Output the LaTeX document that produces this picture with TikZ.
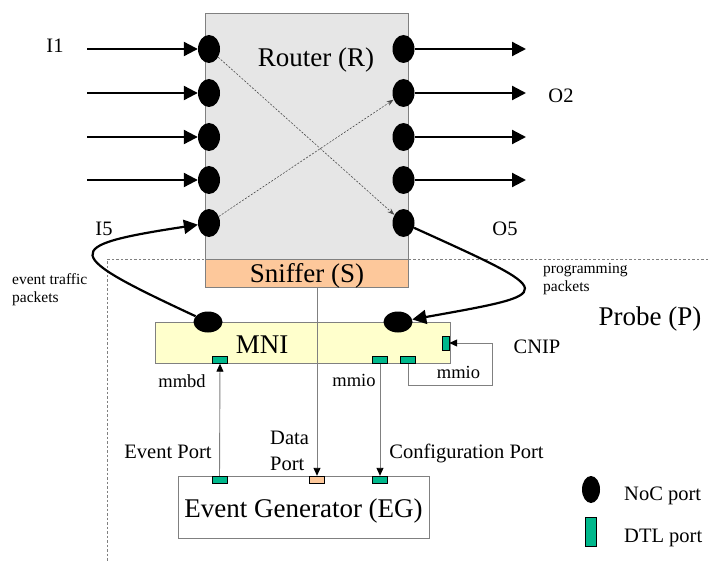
\documentclass[tikz,border=0pt]{standalone}
\usepackage{fontspec}
\setmainfont{Liberation Serif}
\usepackage{tikz}
\usetikzlibrary{arrows.meta,shapes,positioning}
\definecolor{routergray}{RGB}{230,230,230}
\definecolor{sniffpeach}{RGB}{253,200,155}
\definecolor{mniyellow}{RGB}{255,255,204}
\definecolor{dtlgreen}{RGB}{0,184,140}
\definecolor{boxgray}{RGB}{128,128,128}

\begin{document}
\begin{tikzpicture}[x=1pt,y=-1pt]
      \tikzstyle{every node}=[inner sep=0pt]
      \tikzstyle{noc}=[ellipse,fill=black,minimum width=22pt,minimum height=28pt]
      \tikzstyle{nocflat}=[ellipse,fill=black,minimum width=29pt,minimum height=21pt]
      \tikzstyle{dtl}=[rectangle,draw=black,line width=0.4pt,fill=dtlgreen,minimum width=15pt,minimum height=7pt]
      \tikzstyle{block}=[rectangle,draw=boxgray,line width=1pt]
      \tikzstyle{big}=[font=\fontsize{27}{31}\selectfont,anchor=base]
      \tikzstyle{lbl}=[font=\fontsize{20.5}{24}\selectfont,anchor=base]
      \tikzstyle{small}=[font=\fontsize{18.5}{22}\selectfont,anchor=base]
      \tikzstyle{tiny}=[font=\fontsize{15.5}{17.5}\selectfont,align=left,anchor=base west]
      \tikzstyle{fat}=[line width=2.2pt,-{Triangle[length=14pt,width=14pt]}]
      \tikzstyle{cross}=[draw=black!70,dashed,dash pattern=on 2pt off 1.5pt,line width=0.6pt,-{Stealth[length=7pt,width=5pt]}]
      \tikzstyle{wire}=[draw=boxgray,line width=0.9pt,-{Triangle[length=8pt,width=7pt,color=black]}]
      \useasboundingbox (0,0) rectangle (708,561);
      % probe outline
      \draw[boxgray,dashed,dash pattern=on 2.5pt off 2pt,line width=0.8pt] (708,259) -- (107,259) -- (107,561);
      % router and sniffer
      \node[block,fill=routergray,minimum width=203pt,minimum height=245pt] (router) at (306.5,136.5) {};
      \node[block,fill=sniffpeach,minimum width=203pt,minimum height=28pt] (sniffer) at (306.5,273) {};
      \node[big] at (316,67) {Router (R)};
      \node[big] at (307,282) {Sniffer (S)};
      \foreach \i/\y in {1/49,2/93,3/137,4/180,5/223} {
        \node[noc] (in\i) at (209,\y) {};
        \node[noc] (out\i) at (403.5,\y) {};
      }
      \foreach \i/\y in {1/49,2/93,3/137,4/180} {
        \coordinate (src\i) at (87,\y);
        \coordinate (dst\i) at (526,\y);
        \draw[fat] (src\i) -- (in\i);
        \draw[fat] (out\i) -- (dst\i);
      }
      \draw[cross] (in1) -- (out5);
      \draw[cross] (in5) -- (out2);
      \node[lbl] at (55,53) {I1};
      \node[lbl] at (104,235) {I5};
      \node[lbl] at (561,103) {O2};
      \node[lbl] at (505,235) {O5};
      % MNI
      \node[block,fill=mniyellow,minimum width=295pt,minimum height=41pt] (mni) at (302.5,342.5) {};
      \node[big] at (262,353) {MNI};
      \node[nocflat] (mnil) at (208,322) {};
      \node[nocflat] (mnir) at (398,322) {};
      \node[dtl] (mmbd) at (220,360) {};
      \node[dtl] (mmio1) at (380,360) {};
      \node[dtl] (mmio2) at (408,360) {};
      \node[dtl,minimum width=7pt,minimum height=14pt] (cnip) at (445.5,343) {};
      \draw[fat] (mnil) .. controls (62,254) and (58,246) .. (in5);
      \draw[fat] (out5) .. controls (560,294) and (560,293) .. (mnir);
      \node[tiny] at (12,302) {event traffic\\packets};
      \node[tiny] at (543,291) {programming\\packets};
      \node[big] at (650,325) {Probe (P)};
      \node[lbl] at (537,353) {CNIP};
      \node[small] at (182,387) {mmbd};
      \node[small] at (354,386) {mmio};
      \node[small] at (458.5,378) {mmio};
      % event generator
      \node[block,fill=white,minimum width=251pt,minimum height=62pt] (eg) at (303.5,507) {};
      \node[big] at (303.5,517) {Event Generator (EG)};
      \node[dtl] (evport) at (219.5,479.5) {};
      \node[dtl,fill=sniffpeach] (dataport) at (317,479.5) {};
      \node[dtl] (cfgport) at (380,479.5) {};
      \draw[wire] (evport) -- (mmbd);
      \draw[wire] (dataport |- sniffer.south) -- (dataport);
      \draw[wire] (mmio1) -- (cfgport);
      \coordinate (loopc) at (492,385);
      \draw[wire] (mmio2.south) |- (loopc) |- (cnip.east);
      \node[lbl] at (168,458) {Event Port};
      \node[lbl,anchor=base west,align=left] at (270,470) {Data\\[2pt]Port};
      \node[lbl] at (466.5,458) {Configuration Port};
      % legend
      \node[noc,minimum width=18pt,minimum height=27pt] (legnoc) at (591,489.5) {};
      \node[dtl,minimum width=11pt,minimum height=29pt] (legdtl) at (590.5,531.5) {};
      \node[lbl,anchor=base west] at (624,500) {NoC port};
      \node[lbl,anchor=base west] at (624,542) {DTL port};
\end{tikzpicture}
\end{document}
